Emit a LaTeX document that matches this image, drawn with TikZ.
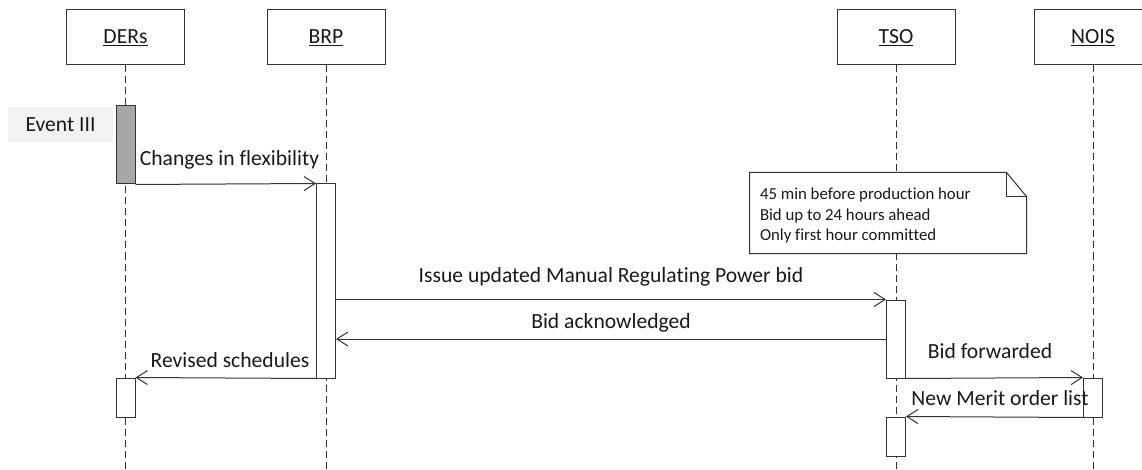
\documentclass[tikz,border=0pt]{standalone}
\usepackage{fontspec}
\setmainfont{Carlito}[Ligatures=NoCommon]
\usetikzlibrary{arrows.meta}

\begin{document}
\begin{tikzpicture}[x=1pt, y=-1pt, line width=1pt,
    every node/.style={font=\fontsize{21.6}{24}\selectfont, text=black!90},
    actor/.style={draw=black!80, minimum width=118pt, minimum height=55pt, inner sep=0pt},
    actbar/.style={draw=black!80, fill=white, minimum width=19pt, inner sep=0pt},
    lifeline/.style={draw=black!80, dash pattern=on 7pt off 4pt},
    msg/.style={draw=black!80, -{Straight Barb[length=11pt,width=14pt]}}]

    \useasboundingbox (0,0) rectangle (1142,470);

    % participants
    \node[actor] (ders) at (125.5,37.5) {\underline{DERs}};
    \node[actor] (brp) at (326,37.5) {\underline{BRP}};
    \node[actor] (tso) at (896,37.5) {\underline{TSO}};
    \node[actor] (nois) at (1093,37.5) {\underline{NOIS}};
    \foreach \who in {ders,brp,tso,nois}
        \draw[lifeline] (\who.south) -- (\who.south |- 0,470);

    % note
    \node[fill=white, minimum width=276pt, minimum height=80pt, inner sep=0pt] (note) at (888,213) {};
    \draw[black!80] (note.north west) -- ([xshift=-20pt]note.north east) -- ([yshift=-24pt]note.north east)
        -- (note.south east) -- (note.south west) -- cycle;
    \draw[black!80] ([xshift=-20pt]note.north east) -- ([xshift=-20pt, yshift=-24pt]note.north east)
        -- ([yshift=-24pt]note.north east);
    \node[anchor=north west, align=left, inner sep=0pt, font=\fontsize{16.8}{20.5}\selectfont]
        (notetext) at ([xshift=10pt, yshift=-15pt]note.north west)
        {45 min before production hour\\Bid up to 24 hours ahead\\Only first hour committed};

    % activations
    \node[fill=black!5, minimum width=105pt, minimum height=35pt] (event) at (60.5,124.5) {Event III};
    \node[actbar, fill=black!35, minimum height=78pt] (dersbarA) at (125.5,145) {};
    \node[actbar, minimum height=194pt] (brpbar) at (326,281) {};
    \node[actbar, minimum height=78pt] (tsobarA) at (896,339) {};
    \node[actbar, minimum height=39pt] (dersbarB) at (125.5,397.5) {};
    \node[actbar, minimum height=39pt] (noisbar) at (1093,397.5) {};
    \node[actbar, minimum height=39pt] (tsobarB) at (896,436.5) {};

    % messages
    \draw[msg] (dersbarA.south east) -- (brpbar.north west);
    \node[anchor=base west] (flex) at (136,166) {Changes in flexibility};
    \draw[msg] (brpbar.east |- tsobarA.north) -- (tsobarA.north west);
    \node[anchor=base] (issue) at (611,282) {Issue updated Manual Regulating Power bid};
    \draw[msg] (tsobarA.west) -- (brpbar.east |- tsobarA.west);
    \node[anchor=base] (ack) at (611,328) {Bid acknowledged};
    \draw[msg] (brpbar.south west) -- (dersbarB.north east);
    \node[anchor=base] (revised) at (230,367) {Revised schedules};
    \draw[msg] (tsobarA.south east) -- (noisbar.north west);
    \node[anchor=base] (fwd) at (990,358) {Bid forwarded};
    \draw[msg] (noisbar.south west) -- (tsobarB.north east);
    \node[anchor=base] (merit) at (1000,405) {New Merit order list};
\end{tikzpicture}
\end{document}
